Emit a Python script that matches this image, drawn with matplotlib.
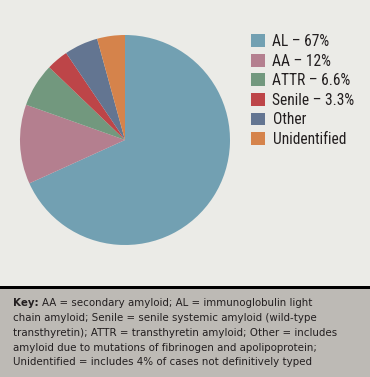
import matplotlib
matplotlib.use("Agg")
import matplotlib.pyplot as plt
from matplotlib.patches import Rectangle, Patch

labels = ["AL \u2013 67%", "AA \u2013 12%", "ATTR \u2013 6.6%", "Senile \u2013 3.3%", "Other", "Unidentified"]
values = [67, 12, 6.6, 3.3, 5.1, 4.2]
colors = ["#72a0b2", "#b47f8f", "#72987e", "#bd4548", "#637591", "#d5834b"]

W, H = 370, 377
fig = plt.figure(figsize=(W/100, H/100), dpi=100)
fig.patch.set_facecolor("#ebebe7")

leg_fam = ["Roboto Condensed", "DejaVu Sans"]
key_fam = ["DejaVu Sans"]

ax = fig.add_axes([20/W, 132/H, 210/W, 210/H])
ax.pie(values, colors=colors, startangle=90, counterclock=False,
       wedgeprops=dict(linewidth=0))
ax.set_xlim(-1, 1); ax.set_ylim(-1, 1)
ax.set_aspect('equal')
ax.axis('off')

fs = 11.2
fpx = fs * 100 / 72
handles = [Patch(facecolor=c, edgecolor='none') for c in colors]
leg = fig.legend(handles, labels, loc='upper left', bbox_to_anchor=(251/W, 1-34/H),
                 frameon=False, prop=dict(family=leg_fam, size=fs),
                 handlelength=14/fpx, handleheight=14/fpx, handletextpad=7.5/fpx,
                 labelspacing=4.6/fpx, borderaxespad=0, borderpad=0)
for t in leg.get_texts():
    t.set_color("#231f20")

fig.patches.append(Rectangle((0, 0), 1, 89/H, transform=fig.transFigure,
                             facecolor="#bdbab5", edgecolor='none', zorder=0))
fig.patches.append(Rectangle((0, 88/H), 1, 3/H, transform=fig.transFigure,
                             facecolor="#000000", edgecolor='none', zorder=1))

key_lines = [
    "AA = secondary amyloid; AL = immunoglobulin light",
    "chain amyloid; Senile = senile systemic amyloid (wild-type",
    "transthyretin); ATTR = transthyretin amyloid; Other = includes",
    "amyloid due to mutations of fibrinogen and apolipoprotein;",
    "Unidentified = includes 4% of cases not definitively typed",
]
ys = [303, 318, 333, 348, 362]
ks = 7.4
kt = fig.text(13/W, 1-ys[0]/H, "Key:", family=key_fam, weight='bold', size=ks,
              va='center', ha='left', color="#231f20")
fig.canvas.draw()
bb = kt.get_window_extent()
fig.text((bb.x1 + 3)/W, 1-ys[0]/H, key_lines[0], family=key_fam, size=ks,
         va='center', ha='left', color="#231f20")
for y, s in zip(ys[1:], key_lines[1:]):
    fig.text(13/W, 1-y/H, s, family=key_fam, size=ks, va='center', ha='left', color="#231f20")

fig.savefig("out.png", dpi=100, facecolor=fig.get_facecolor())
